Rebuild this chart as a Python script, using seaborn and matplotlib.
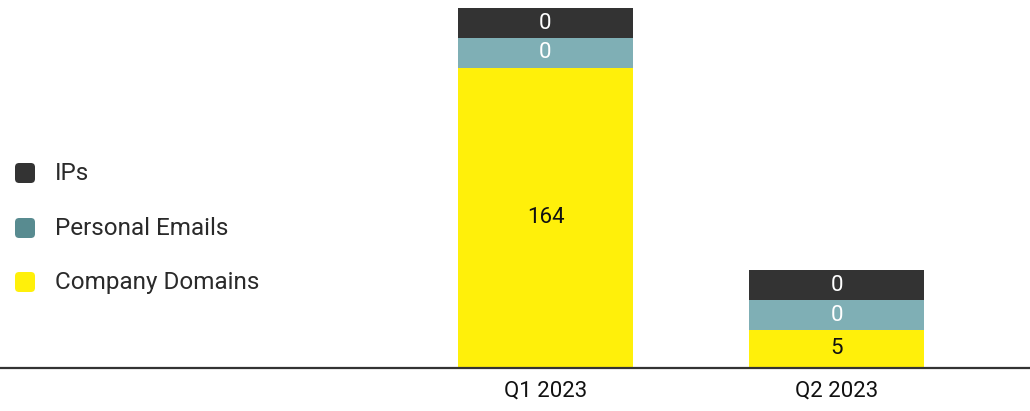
import matplotlib
matplotlib.use("Agg")
import matplotlib.pyplot as plt
import seaborn as sns
import pandas as pd
from matplotlib.patches import FancyBboxPatch

quarters = ["Q1 2023", "Q2 2023"]
company_domains = [164, 5]
personal_emails = [0, 0]
ips = [0, 0]

series_names = ["IPs", "Personal Emails", "Company Domains"]
bar_colors = {"Company Domains": "#FFF00A", "Personal Emails": "#7FAFB5", "IPs": "#333333"}
legend_colors = {"Company Domains": "#FFF00A", "Personal Emails": "#588B90", "IPs": "#333333"}
text_colors = {"Company Domains": "#111111", "Personal Emails": "white", "IPs": "white"}

MIN_SEG = 18.1  # minimum visible segment height (data units) added to every segment

sns.set_theme(style="white")
plt.rcParams["font.family"] = ["Roboto", "DejaVu Sans"]

W, H = 1030, 411
fig = plt.figure(figsize=(W / 100, H / 100), dpi=100)
ax = fig.add_axes([0, 43 / H, 1, 368 / H])

seg = {
    "Company Domains": [v + MIN_SEG for v in company_domains],
    "Personal Emails": [v + MIN_SEG for v in personal_emails],
    "IPs": [v + MIN_SEG for v in ips],
}
raw = {"Company Domains": company_domains, "Personal Emails": personal_emails, "IPs": ips}
stack_order = ["Company Domains", "Personal Emails", "IPs"]

cum = {}
running = [0.0] * len(quarters)
for name in stack_order:
    bottom = list(running)
    running = [r + s for r, s in zip(running, seg[name])]
    cum[name] = (bottom, list(running))

for name in reversed(stack_order):
    df = pd.DataFrame({"quarter": quarters, "top": cum[name][1]})
    sns.barplot(data=df, x="quarter", y="top", color=bar_colors[name],
                width=0.6, saturation=1, ax=ax, edgecolor="none", linewidth=0)

for name in stack_order:
    bottoms, tops = cum[name]
    for i, q in enumerate(quarters):
        ax.text(i, (bottoms[i] + tops[i]) / 2, str(raw[name][i]), ha="center", va="center",
                fontsize=16, color=text_colors[name])

ax.set_xlim(-545.5 / 291, (W - 545.5) / 291)
ax.set_ylim(0, 368 / 1.648)
ax.set_xlabel("")
ax.set_ylabel("")
ax.set_yticks([])
ax.tick_params(axis="x", length=0, pad=9, labelsize=16, labelcolor="#111111")
for s in ["top", "left", "right"]:
    ax.spines[s].set_visible(False)
ax.spines["bottom"].set_color("#333333")
ax.spines["bottom"].set_linewidth(1.6)

# legend (rounded square swatches + labels)
row_y = [173, 228, 282]
for name, yc in zip(series_names, row_y):
    box = FancyBboxPatch((15 / W, (H - yc - 10) / H), 20 / W, 20 / H,
                         boxstyle="round,pad=0,rounding_size=0.004",
                         transform=fig.transFigure, facecolor=legend_colors[name],
                         edgecolor="none", mutation_aspect=W / H)
    fig.patches.append(box)
    fig.text(55 / W, (H - yc) / H, name, ha="left", va="center", fontsize=17.5,
             color="#2a2a2a")

fig.savefig("out.png", dpi=100)
